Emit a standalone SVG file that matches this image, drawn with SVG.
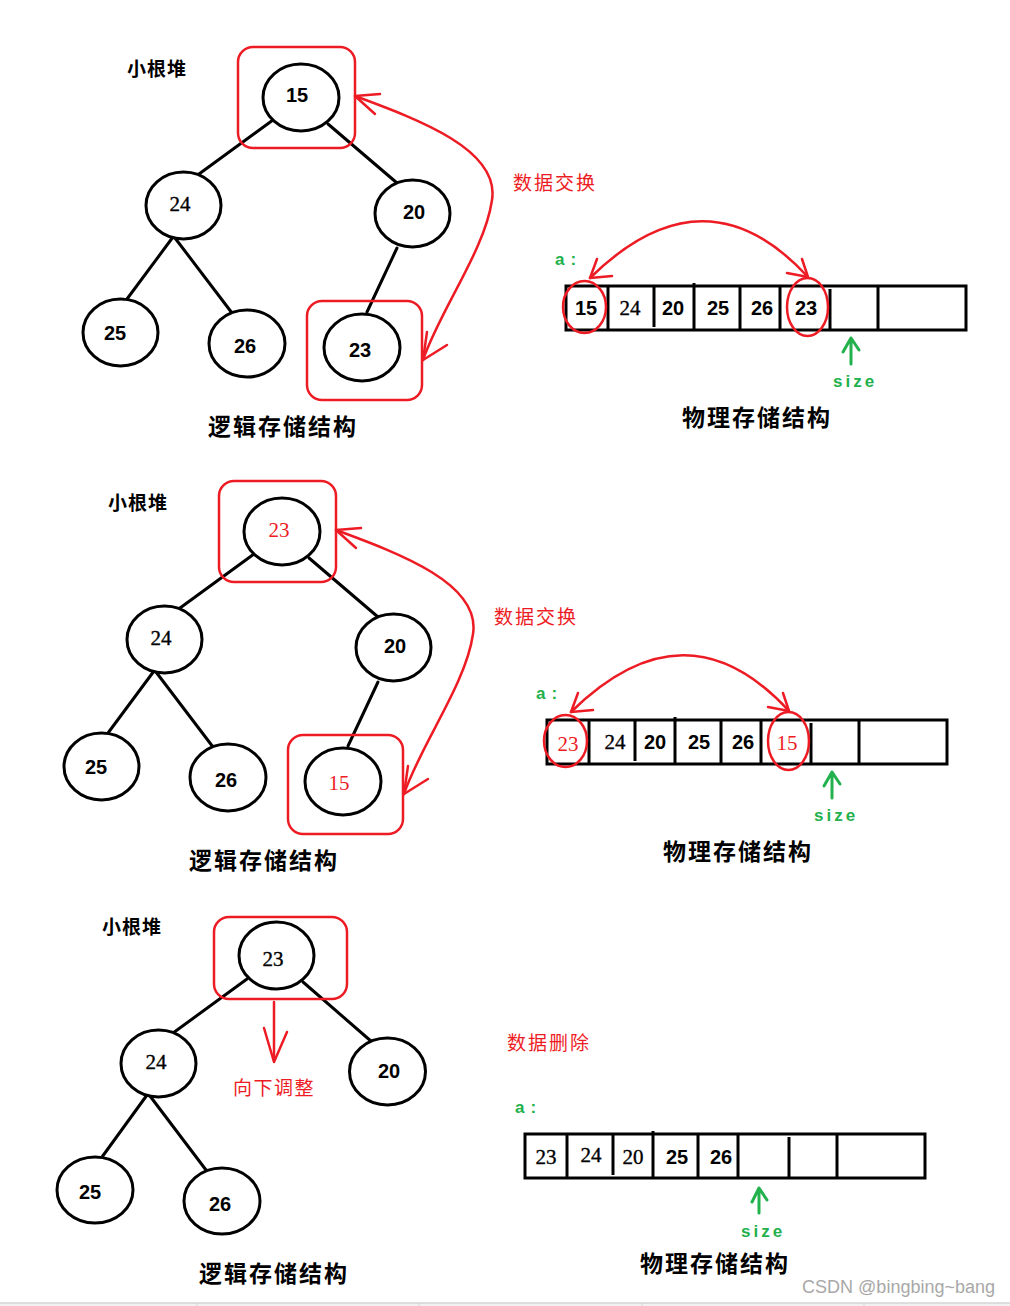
<svg xmlns="http://www.w3.org/2000/svg" width="1010" height="1306" viewBox="0 0 1010 1306">
<style>
.node ellipse{fill:#fff;stroke:#000;stroke-width:3}
.edge line{stroke:#000;stroke-width:3;stroke-linecap:round}
.red{stroke:#ed1c24;fill:none;stroke-width:2.5;stroke-linecap:round;stroke-linejoin:round}
.grn{stroke:#22b14c;fill:none;stroke-width:3;stroke-linecap:round;stroke-linejoin:round}
.ns{font-family:"Liberation Sans",Arial,sans-serif;font-weight:bold;font-size:20px;text-anchor:middle;fill:#000}
.nr{font-family:"Liberation Serif","DejaVu Serif",serif;font-size:21px;text-anchor:middle;fill:#000;stroke:#000;stroke-width:0.35}
.rt{fill:#ed1c24;stroke:none}
.cjk{font-family:"Noto Sans CJK SC",sans-serif;font-weight:bold;fill:#000}
.lbl{font-size:23px;letter-spacing:2px}
.heap{font-size:19px;letter-spacing:1px}
.redt{fill:#ed1c24;font-family:"Noto Sans CJK SC",sans-serif;font-size:19px;letter-spacing:2px}
.mono{font-family:"Liberation Sans",Arial,sans-serif;font-weight:bold;font-size:17px;fill:#22b14c;letter-spacing:3px}
.ac{letter-spacing:6px}
.arr rect{fill:#fff;stroke:#000;stroke-width:3}
.arr line{stroke:#000;stroke-width:3}
</style>
<rect x="0" y="0" width="1010" height="1306" fill="#fff"/>

<!-- ============ PANEL 1 ============ -->
<g id="panel1">
  <text class="cjk heap" x="127" y="76">小根堆</text>
  <g id="p1-connectors" class="edge">
    <line x1="273" y1="120" x2="199" y2="174"/>
    <line x1="328" y1="124" x2="397" y2="183"/>
    <line x1="173" y1="237" x2="127" y2="299"/>
    <line x1="175" y1="238" x2="232" y2="313"/>
    <line x1="397" y1="248" x2="367" y2="312"/>
  </g>
  <g id="p1-n15" class="node"><ellipse cx="301" cy="97.5" rx="38" ry="33.5"/><text class="ns" x="297" y="102">15</text></g>
  <g id="p1-n24" class="node"><ellipse cx="183.5" cy="205.5" rx="37.5" ry="33.5"/><text class="nr" x="180" y="211">24</text></g>
  <g id="p1-n20" class="node"><ellipse cx="412.5" cy="213.5" rx="37.5" ry="33.5"/><text class="ns" x="414" y="219">20</text></g>
  <g id="p1-n25" class="node"><ellipse cx="120.5" cy="332.5" rx="37.5" ry="33.5"/><text class="ns" x="115" y="340">25</text></g>
  <g id="p1-n26" class="node"><ellipse cx="247" cy="343.5" rx="38" ry="33.5"/><text class="ns" x="245" y="353">26</text></g>
  <g id="p1-n23" class="node"><ellipse cx="362" cy="347.5" rx="38" ry="33.5"/><text class="ns" x="360" y="357">23</text></g>
  <rect class="red" x="238" y="47" width="117" height="101" rx="15"/>
  <rect class="red" x="307" y="301" width="115" height="99" rx="15"/>
  <g id="p1-swap">
    <path class="red" d="M355,96 C420,120 500,150 492,200 C485,250 440,310 423,360"/>
    <path class="red" d="M380,94 L355,96 L375,114"/>
    <path class="red" d="M427,332 L423,360 L447,345"/>
  </g>
  <text class="cjk lbl" x="208" y="435">逻辑存储结构</text>
  <text class="redt" x="513" y="190">数据交换</text>
  <text class="mono ac" x="555" y="265">a:</text>
  <g id="p1-array" class="arr">
    <rect x="566" y="286" width="400" height="44"/>
    <line x1="608" y1="286" x2="608" y2="330"/>
    <line x1="654" y1="286" x2="654" y2="327"/>
    <line x1="694" y1="283" x2="694" y2="330"/>
    <line x1="740" y1="286" x2="740" y2="330"/>
    <line x1="780" y1="286" x2="780" y2="330"/>
    <line x1="830" y1="289" x2="830" y2="330"/>
    <line x1="878" y1="286" x2="878" y2="330"/>
    <text class="ns" x="586" y="315">15</text>
    <text class="nr" x="630" y="315">24</text>
    <text class="ns" x="673" y="315">20</text>
    <text class="ns" x="718" y="315">25</text>
    <text class="ns" x="762" y="315">26</text>
    <text class="ns" x="806" y="315">23</text>
  </g>
  <ellipse class="red" cx="584.5" cy="307" rx="21.5" ry="26"/>
  <ellipse class="red" cx="807.5" cy="307" rx="20.5" ry="29"/>
  <path class="red" d="M590,278 Q705,165 808,277"/>
  <path class="red" d="M597,259 L590,278 L612,276"/>
  <path class="red" d="M802,259 L808,277 L787,273"/>
  <path class="grn" d="M851,364 L851,338 M843,352 L851,338 L859,350"/>
  <text class="mono" x="833" y="387">size</text>
  <text class="cjk lbl" x="682" y="426">物理存储结构</text>
</g>

<!-- ============ PANEL 2 ============ -->
<g id="panel2" transform="translate(-19,434)">
  <text class="cjk heap" x="127" y="76">小根堆</text>
  <g id="p2-connectors" class="edge">
    <line x1="273" y1="120" x2="199" y2="174"/>
    <line x1="328" y1="124" x2="397" y2="183"/>
    <line x1="173" y1="237" x2="127" y2="299"/>
    <line x1="175" y1="238" x2="232" y2="313"/>
    <line x1="397" y1="248" x2="367" y2="312"/>
  </g>
  <g id="p2-n23" class="node"><ellipse cx="301" cy="97.5" rx="38" ry="33.5"/><text class="nr rt" x="298" y="103">23</text></g>
  <g id="p2-n24" class="node"><ellipse cx="183.5" cy="205.5" rx="37.5" ry="33.5"/><text class="nr" x="180" y="211">24</text></g>
  <g id="p2-n20" class="node"><ellipse cx="412.5" cy="213.5" rx="37.5" ry="33.5"/><text class="ns" x="414" y="219">20</text></g>
  <g id="p2-n25" class="node"><ellipse cx="120.5" cy="332.5" rx="37.5" ry="33.5"/><text class="ns" x="115" y="340">25</text></g>
  <g id="p2-n26" class="node"><ellipse cx="247" cy="343.5" rx="38" ry="33.5"/><text class="ns" x="245" y="353">26</text></g>
  <g id="p2-n15" class="node"><ellipse cx="362" cy="347.5" rx="38" ry="33.5"/><text class="nr rt" x="358" y="356">15</text></g>
  <rect class="red" x="238" y="47" width="117" height="101" rx="15"/>
  <rect class="red" x="307" y="301" width="115" height="99" rx="15"/>
  <g id="p2-swap">
    <path class="red" d="M355,96 C420,120 500,150 492,200 C485,250 440,310 423,360"/>
    <path class="red" d="M380,94 L355,96 L375,114"/>
    <path class="red" d="M427,332 L423,360 L447,345"/>
  </g>
  <text class="cjk lbl" x="208" y="435">逻辑存储结构</text>
  <text class="redt" x="513" y="190">数据交换</text>
  <text class="mono ac" x="555" y="265">a:</text>
  <g id="p2-array" class="arr">
    <rect x="566" y="286" width="400" height="44"/>
    <line x1="608" y1="286" x2="608" y2="330"/>
    <line x1="654" y1="286" x2="654" y2="327"/>
    <line x1="694" y1="283" x2="694" y2="330"/>
    <line x1="740" y1="286" x2="740" y2="330"/>
    <line x1="780" y1="286" x2="780" y2="330"/>
    <line x1="830" y1="289" x2="830" y2="330"/>
    <line x1="878" y1="286" x2="878" y2="330"/>
    <text class="nr rt" x="587" y="317">23</text>
    <text class="nr" x="634" y="315">24</text>
    <text class="ns" x="674" y="315">20</text>
    <text class="ns" x="718" y="315">25</text>
    <text class="ns" x="762" y="315">26</text>
    <text class="nr rt" x="806" y="316">15</text>
  </g>
  <ellipse class="red" cx="584.5" cy="307" rx="21.5" ry="26"/>
  <ellipse class="red" cx="807.5" cy="307" rx="20.5" ry="29"/>
  <path class="red" d="M590,278 Q705,165 808,277"/>
  <path class="red" d="M597,259 L590,278 L612,276"/>
  <path class="red" d="M802,259 L808,277 L787,273"/>
  <path class="grn" d="M851,364 L851,338 M843,352 L851,338 L859,350"/>
  <text class="mono" x="833" y="387">size</text>
  <text class="cjk lbl" x="682" y="426">物理存储结构</text>
</g>

<!-- ============ PANEL 3 ============ -->
<g id="panel3">
  <text class="cjk heap" x="102" y="934">小根堆</text>
  <g id="p3-connectors" class="edge">
    <line x1="247" y1="979" x2="173" y2="1033"/>
    <line x1="303" y1="982" x2="372" y2="1042"/>
    <line x1="147" y1="1095" x2="102" y2="1157"/>
    <line x1="150" y1="1096" x2="206" y2="1170"/>
  </g>
  <g id="p3-n23" class="node"><ellipse cx="276.5" cy="955.5" rx="37.5" ry="33.5"/><text class="nr" x="273" y="966">23</text></g>
  <g id="p3-n24" class="node"><ellipse cx="158.5" cy="1063.5" rx="37.5" ry="33.5"/><text class="nr" x="156" y="1069">24</text></g>
  <g id="p3-n20" class="node"><ellipse cx="387.5" cy="1071.5" rx="38" ry="33.5"/><text class="ns" x="389" y="1078">20</text></g>
  <g id="p3-n25" class="node"><ellipse cx="95" cy="1190" rx="38" ry="33"/><text class="ns" x="90" y="1199">25</text></g>
  <g id="p3-n26" class="node"><ellipse cx="222" cy="1201" rx="38" ry="33"/><text class="ns" x="220" y="1211">26</text></g>
  <rect class="red" x="214" y="917" width="133" height="82" rx="15"/>
  <g id="p3-down">
    <path class="red" d="M274,1002 L274,1060"/>
    <path class="red" d="M264,1028 L274,1062 L287,1032"/>
  </g>
  <text class="redt" x="233" y="1095" style="letter-spacing:1.5px">向下调整</text>
  <text class="cjk lbl" x="199" y="1282">逻辑存储结构</text>
  <text class="redt" x="507" y="1050">数据删除</text>
  <text class="mono ac" x="515" y="1113">a:</text>
  <g id="p3-array" class="arr">
    <rect x="525" y="1134" width="400" height="44"/>
    <line x1="567" y1="1134" x2="567" y2="1178"/>
    <line x1="613" y1="1134" x2="613" y2="1175"/>
    <line x1="653" y1="1131" x2="653" y2="1178"/>
    <line x1="698" y1="1134" x2="698" y2="1178"/>
    <line x1="738" y1="1134" x2="738" y2="1178"/>
    <line x1="789" y1="1137" x2="789" y2="1178"/>
    <line x1="837" y1="1134" x2="837" y2="1178"/>
    <text class="nr" x="546" y="1164">23</text>
    <text class="nr" x="591" y="1162">24</text>
    <text class="nr" x="633" y="1164">20</text>
    <text class="ns" x="677" y="1164">25</text>
    <text class="ns" x="721" y="1164">26</text>
  </g>
  <path class="grn" d="M759,1213 L759,1188 M752,1202 L759,1188 L767,1200"/>
  <text class="mono" x="741" y="1237">size</text>
  <text class="cjk lbl" x="640" y="1272">物理存储结构</text>
</g>

<text x="995" y="1293" text-anchor="end" font-family="Liberation Sans, Arial, sans-serif" font-size="18" fill="#a8a8a8">CSDN @bingbing~bang</text>
<rect x="0" y="1303" width="1010" height="3" fill="#f2f2f2"/>
<line x1="0" y1="1303" x2="1010" y2="1303" stroke="#d4d4d4" stroke-width="1.5"/>
<g stroke="#d4d4d4" stroke-width="1">
  <line x1="197" y1="1303" x2="197" y2="1306"/>
  <line x1="419" y1="1303" x2="419" y2="1306"/>
  <line x1="642" y1="1303" x2="642" y2="1306"/>
  <line x1="864" y1="1303" x2="864" y2="1306"/>
</g>
</svg>
